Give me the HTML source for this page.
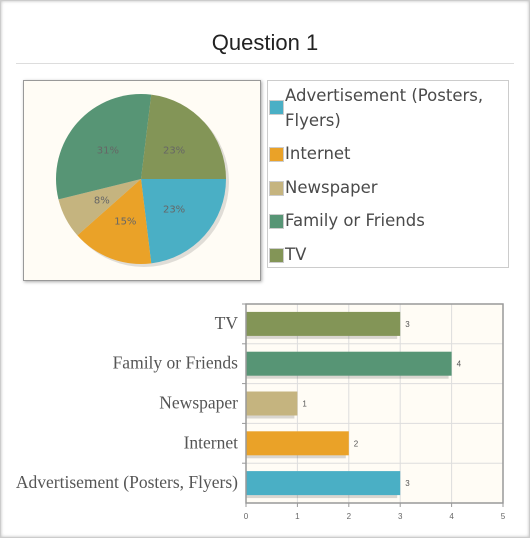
<!DOCTYPE html>
<html><head><meta charset="utf-8"><style>
body{margin:0;width:530px;height:538px;background:#fff;font-family:"Liberation Sans",sans-serif;overflow:hidden}
#card{position:absolute;left:0;top:0;width:528px;height:536px;border:1px solid #ccc;box-shadow:inset 0 0 3px #bbb}
#title{position:absolute;left:0;width:530px;top:30px;text-align:center;font-size:22px;color:#222}
#rule{position:absolute;left:16px;top:63px;width:498px;height:1px;background:#ddd}
#piebox{position:absolute;left:23px;top:80px;width:236px;height:199px;background:#fffcf5;border:1px solid #999;box-shadow:1px 1px 3px #aaa}
#legend{position:absolute;left:267px;top:80px;width:240px;height:186px;border:1px solid #ccc;font-family:"DejaVu Sans",sans-serif;font-size:16.5px;color:#4a4a4a}
.li{position:absolute;left:0;line-height:25px}
.sw{position:absolute;left:1px;width:13px;height:13px;border:1px solid #ccc}
.lt{position:absolute;left:17px;white-space:nowrap}
</style></head><body>
<div id="card"></div>
<div id="title">Question 1</div>
<div id="rule"></div>
<div id="piebox"></div>
<svg id="pie" style="position:absolute;left:0;top:0" width="530" height="538"></svg>
<div id="legend">
 <div class="li" style="top:2px"><div class="sw" style="top:17px;background:#4aafc5"></div><div class="lt">Advertisement (Posters,<br>Flyers)</div></div>
 <div class="li" style="top:60px"><div class="sw" style="top:6px;background:#eaa228"></div><div class="lt">Internet</div></div>
 <div class="li" style="top:94px"><div class="sw" style="top:6px;background:#c5b47f"></div><div class="lt">Newspaper</div></div>
 <div class="li" style="top:127px"><div class="sw" style="top:6px;background:#579575"></div><div class="lt">Family or Friends</div></div>
 <div class="li" style="top:161px"><div class="sw" style="top:6px;background:#839557"></div><div class="lt">TV</div></div>
</div>
<svg id="bar" style="position:absolute;left:0;top:0" width="530" height="538"></svg>
<script>
const categories=["Advertisement (Posters, Flyers)","Internet","Newspaper","Family or Friends","TV"];
const values=[3,2,1,4,3];
const colors=["#4aafc5","#eaa228","#c5b47f","#579575","#839557"];
const xTicks=[0,1,2,3,4,5];
const NS="http://www.w3.org/2000/svg";
function mk(p,t,a){const e=document.createElementNS(NS,t);for(const k in a)e.setAttribute(k,a[k]);p.appendChild(e);return e;}
// pie
const pie=document.getElementById('pie');
const cx=141,cy=179,r=85,total=values.reduce((a,b)=>a+b,0);
let ang=0;
mk(pie,'circle',{cx:cx+3,cy:cy+3,r:r,fill:'#000','fill-opacity':0.12});
values.forEach((v,i)=>{
 const a0=ang,a1=ang+v/total*2*Math.PI;ang=a1;
 const x0=cx+r*Math.cos(a0),y0=cy+r*Math.sin(a0),x1=cx+r*Math.cos(a1),y1=cy+r*Math.sin(a1);
 const s=mk(pie,'path',{d:`M${cx},${cy}L${x0},${y0}A${r},${r} 0 ${a1-a0>Math.PI?1:0} 1 ${x1},${y1}Z`,fill:colors[i]});
 
 
 const m=(a0+a1)/2,lr=r*0.52;
 const t=mk(pie,'text',{x:cx+lr*Math.cos(m),y:cy+lr*Math.sin(m)+4,'text-anchor':'middle','font-size':10,fill:'#666','font-family':'DejaVu Sans,sans-serif'});
 t.textContent=Math.round(v/total*100)+'%';
 
 
});
// bar
const bar=document.getElementById('bar');
const L=246,R=503,T=304,B=503,n=categories.length,rowH=(B-T)/n;
const xs=v=>L+(R-L)*v/5;
mk(bar,'rect',{x:L,y:T,width:R-L,height:B-T,fill:'#fffcf5'});
xTicks.forEach(t=>{
 if(t>0&&t<5)mk(bar,'line',{x1:xs(t),x2:xs(t),y1:T,y2:B,stroke:'#ddd'});
 mk(bar,'line',{x1:xs(t),x2:xs(t),y1:B,y2:B+4,stroke:'#999'});
 const tx=mk(bar,'text',{x:xs(t),y:B+16,'text-anchor':'middle','font-size':8,fill:'#666'});tx.textContent=t;
 
 
});
for(let k=1;k<n;k++)mk(bar,'line',{x1:L,x2:R,y1:T+k*rowH,y2:T+k*rowH,stroke:'#ddd'});
categories.forEach((c,i)=>{
 const row=n-1-i,yc=T+row*rowH+rowH/2;
 mk(bar,'line',{x1:L-4,x2:L,y1:T+row*rowH,y2:T+row*rowH,stroke:'#999'});
 mk(bar,'rect',{x:L,y:yc-12+3,width:xs(values[i])-L-3,height:24,fill:'#000','fill-opacity':0.15});
 const b=mk(bar,'rect',{x:L,y:yc-12,width:xs(values[i])-L,height:24,fill:colors[i]});
 
 
 const v=mk(bar,'text',{x:xs(values[i])+5,y:yc+3,'font-size':8,fill:'#555'});v.textContent=values[i];
 
 
 const l=mk(bar,'text',{x:L-8,y:yc+5,'text-anchor':'end','font-size':17.5,fill:'#555','font-family':'Liberation Serif,serif'});l.textContent=c;
 
 
});
mk(bar,'rect',{x:L,y:T,width:R-L,height:B-T,fill:'none',stroke:'#999','stroke-width':1.5});
</script>
</body></html>
